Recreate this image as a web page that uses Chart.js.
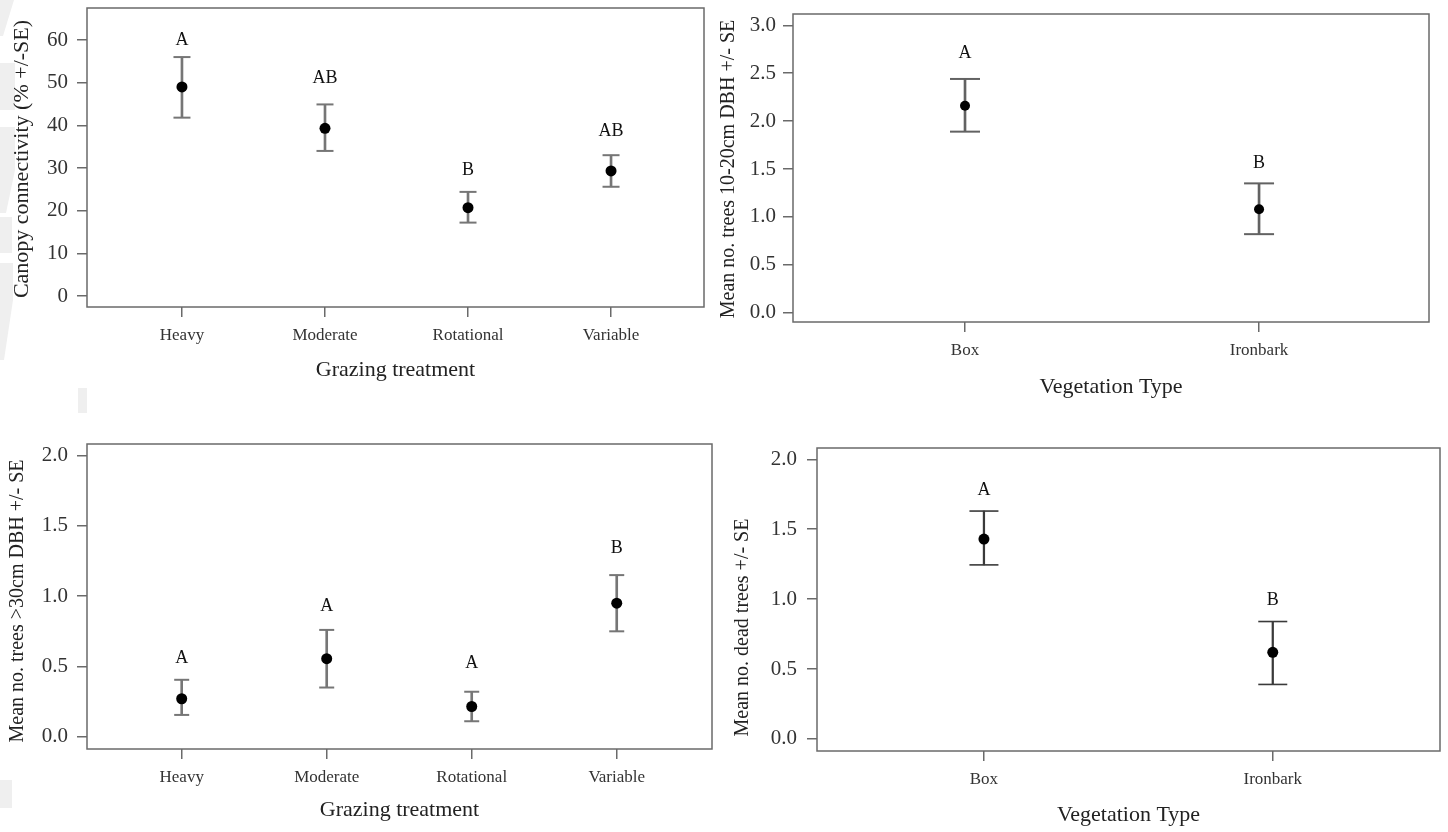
<!DOCTYPE html>
<html>
<head>
<meta charset="utf-8">
<title>Grazing and vegetation type effects on trees</title>
<script src="https://cdn.jsdelivr.net/npm/chart.js@4.4.1/dist/chart.umd.min.js"></script>
<style>
  html, body { margin: 0; padding: 0; background: #fff; width: 1448px; height: 832px; overflow: hidden; }
  body { position: relative; }
  .panel { position: absolute; }
  .panel canvas { display: block; }
  #shade { position: absolute; left: 0; top: 0; }
</style>
</head>
<body>
<svg id="shade" width="100" height="832" viewBox="0 0 100 832">
  <g fill="#efefef">
    <polygon points="0,0 14,0 3,36 0,36"/>
    <polygon points="0,63 15,63 15,110 0,110"/>
    <polygon points="0,127 15,127 15,170 6,213 0,213"/>
    <polygon points="0,217 12,217 12,253 0,253"/>
    <polygon points="0,263 13,263 13,300 4,360 0,360"/>
    <polygon points="78,388 87,388 87,413 78,413"/>
    <polygon points="0,780 12,780 12,808 0,808"/>
  </g>
</svg>
<div class="panel" id="p1"><canvas id="c1"></canvas></div>
<div class="panel" id="p2"><canvas id="c2"></canvas></div>
<div class="panel" id="p3"><canvas id="c3"></canvas></div>
<div class="panel" id="p4"><canvas id="c4"></canvas></div>
<script>
// ---- categories ----
const grazingCats = ['Heavy', 'Moderate', 'Rotational', 'Variable'];
const vegCats = ['Box', 'Ironbark'];

// ---- canopy connectivity (%) by grazing treatment ----
const canopyMean  = [49.0, 39.3, 20.7, 29.3];
const canopyUpper = [56.0, 44.9, 24.4, 33.0];
const canopyLower = [41.8, 34.0, 17.2, 25.6];
const canopyLetters = ['A', 'AB', 'B', 'AB'];
const canopyLetterAt = [60.0, 51.1, 29.5, 38.7];
const canopyTicks = [0, 10, 20, 30, 40, 50, 60];

// ---- trees 10-20cm DBH by vegetation type ----
const smallTreeMean  = [2.16, 1.08];
const smallTreeUpper = [2.44, 1.35];
const smallTreeLower = [1.89, 0.82];
const smallTreeLetters = ['A', 'B'];
const smallTreeLetterAt = [2.71, 1.56];
const smallTreeTicks = [0, 0.5, 1.0, 1.5, 2.0, 2.5, 3.0];

// ---- trees >30cm DBH by grazing treatment ----
const largeTreeMean  = [0.27, 0.555, 0.215, 0.95];
const largeTreeUpper = [0.405, 0.76, 0.32, 1.15];
const largeTreeLower = [0.155, 0.35, 0.11, 0.75];
const largeTreeLetters = ['A', 'A', 'A', 'B'];
const largeTreeLetterAt = [0.56, 0.93, 0.52, 1.34];
const largeTreeTicks = [0, 0.5, 1.0, 1.5, 2.0];

// ---- dead trees by vegetation type ----
const deadTreeMean  = [1.43, 0.62];
const deadTreeUpper = [1.63, 0.84];
const deadTreeLower = [1.245, 0.39];
const deadTreeLetters = ['A', 'B'];
const deadTreeLetterAt = [1.78, 0.99];
const deadTreeTicks = [0, 0.5, 1.0, 1.5, 2.0];

const SERIF = '"Liberation Serif", "Times New Roman", Times, serif';
const FRAME = '#6a6a6a';

// Full rectangular frame round the plotting area
const framePlugin = {
  id: 'frame',
  beforeDatasetsDraw(chart, args, opts) {
    const a = chart.chartArea, ctx = chart.ctx;
    ctx.save();
    ctx.strokeStyle = opts.color;
    ctx.lineWidth = opts.width;
    ctx.strokeRect(a.left, a.top, a.right - a.left, a.bottom - a.top);
    ctx.restore();
  }
};

// Significance letters above each group
const lettersPlugin = {
  id: 'groupLetters',
  afterDatasetsDraw(chart, args, opts) {
    const ctx = chart.ctx, xs = chart.scales.x, ys = chart.scales.y;
    ctx.save();
    ctx.fillStyle = opts.color;
    ctx.font = opts.font;
    ctx.textAlign = 'center';
    ctx.textBaseline = 'middle';
    opts.letters.forEach((t, i) => {
      ctx.fillText(t, xs.getPixelForValue(i), ys.getPixelForValue(opts.at[i]));
    });
    ctx.restore();
  }
};

// Axis titles, placed relative to the plotting area
const axisTitlesPlugin = {
  id: 'axisTitles',
  afterDraw(chart, args, o) {
    const a = chart.chartArea, ctx = chart.ctx;
    ctx.save();
    ctx.fillStyle = o.color;
    ctx.textAlign = 'center';
    ctx.textBaseline = 'middle';
    ctx.font = o.xFont;
    ctx.fillText(o.xText, (a.left + a.right) / 2, a.bottom + o.xOffset);
    ctx.translate(a.left - o.yOffset, (a.top + a.bottom) / 2 + o.yShift);
    ctx.rotate(-Math.PI / 2);
    ctx.font = o.yFont;
    ctx.fillText(o.yText, 0, 0);
    ctx.restore();
  }
};

function makePanel(cfg) {
  // room above and to the right of the plotting area; larger than the
  // overflow Chart.js reserves for the cap markers
  const PAD = 24;
  const ar = cfg.area;
  const wrap = document.getElementById(cfg.wrap);
  const w = ar.r - ar.l + cfg.yw + PAD;
  const h = ar.b - ar.t + PAD + cfg.xh;
  wrap.style.left = (ar.l - cfg.yw) + 'px';
  wrap.style.top = (ar.t - PAD) + 'px';
  wrap.style.width = w + 'px';
  wrap.style.height = h + 'px';

  const cats = cfg.cats;
  const stems = cats.map((_, i) => ({ x: i, y: [cfg.lower[i], cfg.upper[i]] }));
  const caps = cats.flatMap((_, i) => [{ x: i, y: cfg.upper[i] }, { x: i, y: cfg.lower[i] }]);
  const means = cats.map((_, i) => ({ x: i, y: cfg.mean[i] }));

  return new Chart(document.getElementById(cfg.canvas), {
    data: {
      datasets: [
        {
          type: 'scatter', data: means, order: 0,
          pointStyle: 'circle', pointRadius: cfg.dotR, pointHoverRadius: cfg.dotR,
          backgroundColor: '#000', borderColor: '#000', borderWidth: 0
        },
        {
          type: 'scatter', data: caps, order: 1,
          pointStyle: 'line', pointRadius: cfg.capR, pointHoverRadius: cfg.capR,
          borderColor: cfg.barColor, borderWidth: cfg.barWidth, backgroundColor: cfg.barColor
        },
        {
          type: 'bar', data: stems, order: 2,
          barThickness: cfg.barWidth, grouped: false,
          backgroundColor: cfg.barColor, borderWidth: 0, borderSkipped: false
        }
      ]
    },
    options: {
      responsive: true,
      maintainAspectRatio: false,
      animation: false,
      events: [],
      layout: { padding: { top: PAD, right: PAD, left: 0, bottom: 0 } },
      scales: {
        x: {
          type: 'linear', position: 'bottom', bounds: 'data', offset: false,
          min: cfg.xRange[0], max: cfg.xRange[1],
          afterBuildTicks: s => { s.ticks = cats.map((_, i) => ({ value: i })); },
          afterFit: s => { s.height = cfg.xh; s.paddingLeft = 0; s.paddingRight = 0; },
          ticks: {
            callback: v => cats[v],
            font: { family: SERIF, size: 17 }, color: '#333',
            padding: 8, autoSkip: false, maxRotation: 0
          },
          grid: { display: true, offset: false, drawOnChartArea: false, drawTicks: true, tickLength: 10, tickColor: FRAME, lineWidth: 1.5 },
          border: { display: false }
        },
        y: {
          type: 'linear', position: 'left', bounds: 'data',
          min: cfg.yRange[0], max: cfg.yRange[1],
          afterBuildTicks: s => { s.ticks = cfg.ticks.map(v => ({ value: v })); },
          afterFit: s => { s.width = cfg.yw; s.paddingTop = 0; s.paddingBottom = 0; },
          ticks: {
            callback: v => v.toFixed(cfg.decimals),
            font: { family: SERIF, size: 21 }, color: '#333',
            padding: cfg.yPad
          },
          grid: { display: true, drawOnChartArea: false, drawTicks: true, tickLength: 10, tickColor: FRAME, lineWidth: 1.5 },
          border: { display: false }
        }
      },
      plugins: {
        legend: { display: false },
        tooltip: { enabled: false },
        frame: { color: FRAME, width: 1.5 },
        groupLetters: { letters: cfg.letters, at: cfg.letterAt, font: '18px ' + SERIF, color: '#111' },
        axisTitles: {
          color: '#222',
          xText: cfg.xTitle, xFont: '22px ' + SERIF, xOffset: cfg.xTitleOffset,
          yText: cfg.yTitle, yFont: cfg.yTitleSize + 'px ' + SERIF, yOffset: cfg.yTitleOffset, yShift: cfg.yTitleShift
        }
      }
    },
    plugins: [framePlugin, lettersPlugin, axisTitlesPlugin]
  });
}

makePanel({
  wrap: 'p1', canvas: 'c1',
  area: { l: 87, t: 8, r: 704, b: 307 }, yw: 85, xh: 90,
  cats: grazingCats, mean: canopyMean, upper: canopyUpper, lower: canopyLower,
  letters: canopyLetters, letterAt: canopyLetterAt, ticks: canopyTicks, decimals: 0,
  xRange: [-0.664, 3.65], yRange: [-2.58, 67.5], yPad: 9,
  dotR: 5.5, capR: 8.5, barColor: '#767676', barWidth: 2,
  xTitle: 'Grazing treatment', xTitleOffset: 63,
  yTitle: 'Canopy connectivity (% +/-SE)', yTitleSize: 22, yTitleOffset: 65, yTitleShift: 1.5
});

makePanel({
  wrap: 'p2', canvas: 'c2',
  area: { l: 793, t: 14, r: 1429, b: 322 }, yw: 85, xh: 90,
  cats: vegCats, mean: smallTreeMean, upper: smallTreeUpper, lower: smallTreeLower,
  letters: smallTreeLetters, letterAt: smallTreeLetterAt, ticks: smallTreeTicks, decimals: 1,
  xRange: [-0.585, 1.578], yRange: [-0.097, 3.118], yPad: 7,
  dotR: 5, capR: 15, barColor: '#626262', barWidth: 2,
  xTitle: 'Vegetation Type', xTitleOffset: 65,
  yTitle: 'Mean no. trees 10-20cm DBH +/- SE', yTitleSize: 20, yTitleOffset: 64, yTitleShift: 1
});

makePanel({
  wrap: 'p3', canvas: 'c3',
  area: { l: 87, t: 444, r: 712, b: 749 }, yw: 85, xh: 90,
  cats: grazingCats, mean: largeTreeMean, upper: largeTreeUpper, lower: largeTreeLower,
  letters: largeTreeLetters, letterAt: largeTreeLetterAt, ticks: largeTreeTicks, decimals: 1,
  xRange: [-0.653, 3.657], yRange: [-0.0875, 2.083], yPad: 9,
  dotR: 5.5, capR: 7.5, barColor: '#767676', barWidth: 2,
  xTitle: 'Grazing treatment', xTitleOffset: 61,
  yTitle: 'Mean no. trees >30cm DBH +/- SE', yTitleSize: 20, yTitleOffset: 69, yTitleShift: 4.5
});

makePanel({
  wrap: 'p4', canvas: 'c4',
  area: { l: 817, t: 448, r: 1440, b: 751 }, yw: 92, xh: 90,
  cats: vegCats, mean: deadTreeMean, upper: deadTreeUpper, lower: deadTreeLower,
  letters: deadTreeLetters, letterAt: deadTreeLetterAt, ticks: deadTreeTicks, decimals: 1,
  xRange: [-0.578, 1.579], yRange: [-0.086, 2.081], yPad: 10,
  dotR: 5.5, capR: 14.5, barColor: '#3a3a3a', barWidth: 1.6,
  xTitle: 'Vegetation Type', xTitleOffset: 64,
  yTitle: 'Mean no. dead trees +/- SE', yTitleSize: 20, yTitleOffset: 74, yTitleShift: 28
});
</script>
</body>
</html>
